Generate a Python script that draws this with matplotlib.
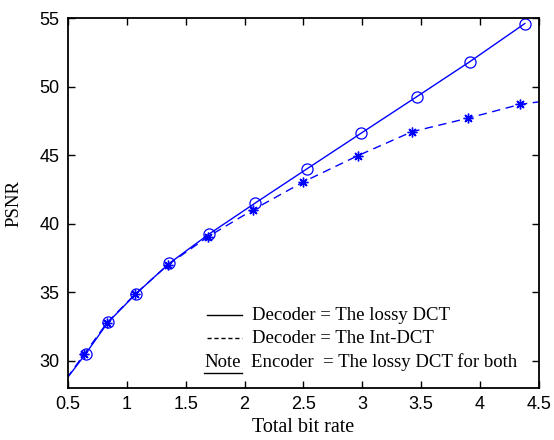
import matplotlib
matplotlib.use("Agg")
import matplotlib.pyplot as plt
from matplotlib.lines import Line2D

# Data
rate_lossy = [0.42, 0.65, 0.84, 1.08, 1.36, 1.70, 2.09, 2.53, 2.99, 3.46, 3.91, 4.38]
psnr_lossy = [27.9, 30.5, 32.8, 34.9, 37.1, 39.25, 41.5, 44.0, 46.6, 49.25, 51.8, 54.6]
rate_int = [0.42, 0.64, 0.83, 1.07, 1.35, 1.69, 2.07, 2.50, 2.96, 3.42, 3.90, 4.34, 4.60]
psnr_int = [27.9, 30.5, 32.75, 34.85, 37.0, 39.05, 41.0, 43.05, 44.95, 46.7, 47.7, 48.7, 49.0]
marker_lossy_idx = list(range(1, 12))
marker_int_idx = list(range(1, 12))

xticks = [0.5, 1, 1.5, 2, 2.5, 3, 3.5, 4, 4.5]
xticklabels = ["0.5", "1", "1.5", "2", "2.5", "3", "3.5", "4", "4.5"]
yticks = [30, 35, 40, 45, 50, 55]

legend_labels = ["Decoder = The lossy DCT", "Decoder = The Int-DCT"]
note_word = "Note"
note_text = "Encoder  = The lossy DCT for both"

serif = ["Liberation Serif", "DejaVu Serif"]
sans = ["Liberation Sans", "DejaVu Sans"]

fig = plt.figure(figsize=(5.54, 4.40), dpi=100)
ax = fig.add_axes([0.1227, 0.118, 0.8502, 0.841])

blue = (0, 0, 1)
ast = (8, 2, 0)
ax.plot(rate_lossy, psnr_lossy, '-', color=blue, lw=1.0,
        marker='o', markersize=8, markerfacecolor='none', markeredgewidth=0.9,
        markevery=marker_lossy_idx)
ax.plot(rate_int, psnr_int, '--', color=blue, lw=1.0, dashes=(6, 4),
        marker=ast, markersize=7, markeredgewidth=1.0,
        markevery=marker_int_idx)

ax.set_xlim(0.5, 4.5)
ax.set_ylim(28, 55)
ax.set_xticks(xticks)
ax.set_xticklabels(xticklabels)
ax.set_yticks(yticks)
ax.tick_params(direction='in', top=True, right=True, length=5, width=1.0,
               labelsize=13, pad=6)
for lab in ax.get_xticklabels() + ax.get_yticklabels():
    lab.set_family(sans)
for s in ax.spines.values():
    s.set_linewidth(1.3)

ax.set_xlabel("Total bit rate", family=serif, fontsize=14.5, labelpad=3)
ax.set_ylabel("PSNR", family=serif, fontsize=13.5, labelpad=12)

# Legend (manual, matching the reference layout)
rows = [0.197, 0.135, 0.070]
ls_list = ['-', '--']
fs = 13.5
for y, ls, label in zip(rows[:2], ls_list, legend_labels):
    l = Line2D([0.295, 0.369], [y, y], transform=ax.transAxes, color='black',
               lw=1.0, linestyle=ls, dashes=(3, 2) if ls == '--' else (None, None))
    ax.add_line(l)
    ax.text(0.391, y, label, transform=ax.transAxes, family=serif,
            fontsize=fs, va='center', ha='left')
ax.text(0.289, rows[2], note_word, transform=ax.transAxes, family=serif,
        fontsize=fs, va='center', ha='left')
ax.add_line(Line2D([0.289, 0.369], [rows[2] - 0.03, rows[2] - 0.03],
                   transform=ax.transAxes, color='black', lw=1.0))
ax.text(0.389, rows[2], note_text, transform=ax.transAxes, family=serif,
        fontsize=fs, va='center', ha='left')

fig.savefig("out.png", dpi=100)
